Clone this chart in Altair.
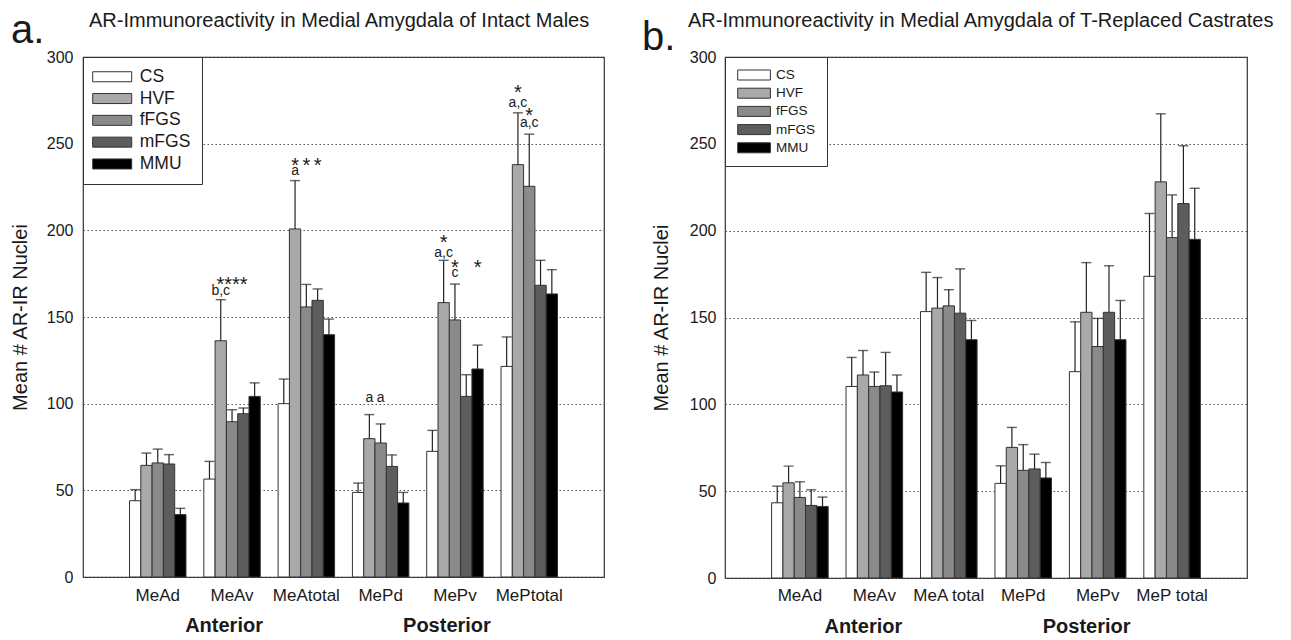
import altair as alt
import pandas as pd

FONT = "Liberation Sans"
INK = "#1a1a1a"
SERIES = ["CS", "HVF", "fFGS", "mFGS", "MMU"]
FILLS = ["#ffffff", "#a9a9a9", "#8a8a8a", "#5d5d5d", "#000000"]

# ---------------- Panel a: intact males ----------------
GROUPS_A = ["MeAd", "MeAv", "MeAtotal", "MePd", "MePv", "MePtotal"]
A_MEAN_CS = [44.0, 56.5, 100.0, 48.8, 72.5, 121.5]
A_MEAN_HVF = [64.4, 136.3, 200.8, 79.8, 158.3, 237.9]
A_MEAN_FFGS = [65.8, 89.6, 155.8, 77.3, 148.3, 225.4]
A_MEAN_MFGS = [65.2, 94.2, 159.6, 63.8, 104.2, 168.3]
A_MEAN_MMU = [36.0, 104.2, 139.8, 42.7, 120.0, 163.3]
A_SEM_CS = [6.4, 10.2, 14.2, 5.4, 12.1, 17.0]
A_SEM_HVF = [7.1, 23.7, 27.9, 13.9, 24.4, 29.9]
A_SEM_FFGS = [8.0, 6.9, 13.0, 11.0, 20.7, 30.1]
A_SEM_MFGS = [5.4, 3.3, 6.6, 6.6, 12.5, 14.4]
A_SEM_MMU = [3.6, 7.8, 9.0, 6.1, 13.8, 14.0]

A_LET_GRP = ["MeAv", "MeAtotal", "MePd", "MePd", "MePv", "MePv", "MePtotal", "MePtotal"]
A_LET_SER = ["HVF", "HVF", "HVF", "fFGS", "HVF", "fFGS", "HVF", "fFGS"]
A_LET_Y = [164.8, 233.8, 103.0, 103.0, 186.9, 175.0, 273.3, 261.6]
A_LET_TXT = ["b,c", "a", "a", "a", "a,c", "c", "a,c", "a,c"]

A_STAR_GRP = ["MeAv", "MeAtotal", "MeAtotal", "MeAtotal", "MePv", "MePv", "MePv", "MePtotal", "MePtotal"]
A_STAR_SER = ["fFGS", "HVF", "fFGS", "mFGS", "HVF", "fFGS", "MMU", "HVF", "fFGS"]
A_STAR_Y = [170.8, 239.3, 239.3, 239.3, 195.2, 180.4, 180.4, 281.4, 268.3]
A_STAR_TXT = ["****", "*", "*", "*", "*", "*", "*", "*", "*"]

# ---------------- Panel b: T-replaced castrates ----------------
GROUPS_B = ["MeAd", "MeAv", "MeA total", "MePd", "MePv", "MeP total"]
B_MEAN_CS = [43.3, 110.3, 153.4, 54.5, 118.8, 173.7]
B_MEAN_HVF = [54.8, 116.9, 155.4, 75.2, 153.0, 228.1]
B_MEAN_FFGS = [46.4, 110.3, 156.7, 62.0, 133.3, 196.0]
B_MEAN_MFGS = [41.8, 110.7, 152.5, 62.8, 153.0, 215.6]
B_MEAN_MMU = [41.2, 107.1, 137.2, 57.6, 137.2, 195.0]
B_SEM_CS = [9.6, 16.7, 22.6, 10.1, 28.7, 36.2]
B_SEM_HVF = [9.6, 14.1, 17.6, 11.5, 28.6, 39.2]
B_SEM_FFGS = [9.0, 8.3, 9.3, 14.8, 16.2, 24.6]
B_SEM_MFGS = [9.0, 19.2, 25.5, 8.5, 26.8, 33.3]
B_SEM_MMU = [5.4, 9.8, 11.1, 8.9, 22.6, 29.4]

REGION_GRP = ["MeAv", "MePv"]
REGION_TXT = ["Anterior", "Posterior"]
Y_TICKS = [0, 50, 100, 150, 200, 250, 300]

TITLE_A = "AR-Immunoreactivity in Medial Amygdala of Intact Males"
TITLE_B = "AR-Immunoreactivity in Medial Amygdala of T-Replaced Castrates"


def panel(groups, means, sems, let, star, title, letter, p):
    rows = []
    for s, ml, el in zip(SERIES, means, sems):
        for g, m, e in zip(groups, ml, el):
            rows.append({"grp": g, "series": s, "mean": m, "top": round(m + e, 2)})
    df = pd.DataFrame(rows)
    W, H = p["w"], p["h"]

    xs = alt.Scale(domain=groups, paddingInner=0.24, paddingOuter=0.626, align=0.5)
    xo = alt.Scale(domain=SERIES, paddingInner=0, paddingOuter=0)
    ys = alt.Scale(domain=[0, 300], nice=False, zero=True)

    x_axis = alt.Axis(title=None, labelAngle=0, ticks=False, domain=False,
                      labelFontSize=17, labelPadding=p["xlabpad"],
                      labelColor=INK, labelFont=FONT, grid=False)
    y_axis = alt.Axis(title="Mean # AR-IR Nuclei", values=Y_TICKS, ticks=False,
                      domain=False, labelFontSize=16, labelPadding=p["ylabpad"],
                      labelColor=INK, labelFont=FONT, titleFont=FONT,
                      titleFontSize=20, titleFontWeight="normal", titleColor=INK,
                      titlePadding=p["ytitlepad"], grid=True, gridDash=[1.5, 2.5],
                      gridColor="#555555", gridWidth=1.2)
    legend = alt.Legend(title=None, orient="top-left", offset=0,
                        padding=p["lpad"], rowPadding=p["lrow"],
                        symbolType=p["lpath"], symbolSize=169,
                        symbolOffset=p["lsymoff"], labelOffset=p["llaboff"],
                        labelFontSize=p["lfont"], labelFont=FONT, labelColor=INK,
                        strokeColor="#333333", fillColor="#ffffff", cornerRadius=0,
                        symbolStrokeColor="#333333", symbolStrokeWidth=1,
                        symbolOpacity=1)

    X = alt.X("grp:N", scale=xs, axis=x_axis)
    XO = alt.XOffset("series:N", scale=xo)

    base = alt.Chart(df)
    bars = base.mark_bar(stroke="#333333", strokeWidth=1).encode(
        x=X, xOffset=XO,
        y=alt.Y("mean:Q", scale=ys, axis=y_axis),
        fill=alt.Fill("series:N", scale=alt.Scale(domain=SERIES, range=FILLS), legend=legend),
    )
    rules = base.mark_rule(color="#222222", strokeWidth=1.2).encode(
        x=X, xOffset=XO,
        y=alt.Y("mean:Q", scale=ys, axis=y_axis),
        y2="top:Q",
    )
    caps = base.mark_tick(color="#222222", thickness=1.4, size=10).encode(
        x=X, xOffset=XO,
        y=alt.Y("top:Q", scale=ys, axis=y_axis),
    )
    layers = [bars, rules, caps]

    if let is not None:
        ldf = pd.DataFrame({"grp": let[0], "series": let[1], "y": let[2], "txt": let[3]})
        layers.append(alt.Chart(ldf).mark_text(font=FONT, fontSize=14, color=INK,
                                               baseline="alphabetic", dy=3.6).encode(
            x=X, xOffset=XO,
            y=alt.Y("y:Q", scale=ys, axis=y_axis),
            text="txt:N"))
    if star is not None:
        sdf = pd.DataFrame({"grp": star[0], "series": star[1], "y": star[2], "txt": star[3]})
        layers.append(alt.Chart(sdf).mark_text(font=FONT, fontSize=20, color=INK,
                                               baseline="alphabetic", dy=10.0).encode(
            x=X, xOffset=XO,
            y=alt.Y("y:Q", scale=ys, axis=y_axis),
            text="txt:N"))

    rdf = pd.DataFrame({"grp": REGION_GRP, "txt": REGION_TXT})
    layers.append(alt.Chart(rdf).mark_text(font=FONT, fontSize=20, fontWeight="bold",
                                           color=INK, baseline="alphabetic",
                                           dx=p["regdx"]).encode(
        x=X,
        y=alt.value(H + 54.7),
        text="txt:N"))

    tdf = pd.DataFrame({"t": [title]})
    layers.append(alt.Chart(tdf).mark_text(font=FONT, fontSize=20, color=INK,
                                           align="left", baseline="alphabetic").encode(
        x=alt.value(p["tx"]), y=alt.value(p["ty"]), text="t:N"))
    gdf = pd.DataFrame({"t": [letter]})
    layers.append(alt.Chart(gdf).mark_text(font=FONT, fontSize=40, color=INK,
                                           align="left", baseline="alphabetic").encode(
        x=alt.value(p["lx"]), y=alt.value(p["ly"]), text="t:N"))

    return alt.layer(*layers).properties(width=W, height=H)


PA = dict(w=521, h=520, xlabpad=10, ylabpad=10, ytitlepad=16,
          lpad=11, lrow=2.8, lpath="M-3,-0.77L3,-0.77L3,0.77L-3,0.77Z",
          lsymoff=9.45, llaboff=18.8, lfont=17.5, regdx=-8,
          tx=6, ty=-30.5, lx=-72, ly=-14)
PB = dict(w=522, h=521, xlabpad=9, ylabpad=9, ytitlepad=18,
          lpad=11, lrow=2.2, lpath="M-2.515,-0.77L2.515,-0.77L2.515,0.77L-2.515,0.77Z",
          lsymoff=11.05, llaboff=15, lfont=13.5, regdx=-11,
          tx=-37, ty=-30.5, lx=-83, ly=-7)

pa = panel(GROUPS_A,
           [A_MEAN_CS, A_MEAN_HVF, A_MEAN_FFGS, A_MEAN_MFGS, A_MEAN_MMU],
           [A_SEM_CS, A_SEM_HVF, A_SEM_FFGS, A_SEM_MFGS, A_SEM_MMU],
           (A_LET_GRP, A_LET_SER, A_LET_Y, A_LET_TXT),
           (A_STAR_GRP, A_STAR_SER, A_STAR_Y, A_STAR_TXT),
           TITLE_A, "a.", PA)
pb = panel(GROUPS_B,
           [B_MEAN_CS, B_MEAN_HVF, B_MEAN_FFGS, B_MEAN_MFGS, B_MEAN_MMU],
           [B_SEM_CS, B_SEM_HVF, B_SEM_FFGS, B_SEM_MFGS, B_SEM_MMU],
           None, None, TITLE_B, "b.", PB)

chart = (
    alt.hconcat(pa, pb, spacing=36)
    .resolve_scale(x="independent", y="independent", fill="independent", xOffset="independent")
    .resolve_legend(fill="independent")
    .properties(padding={"left": 1, "top": 1, "right": 0, "bottom": 0}, background="white")
    .configure_view(stroke="#333333", strokeWidth=1.2)
)

chart.save("out.html", embed_options={"renderer": "svg", "actions": False})
